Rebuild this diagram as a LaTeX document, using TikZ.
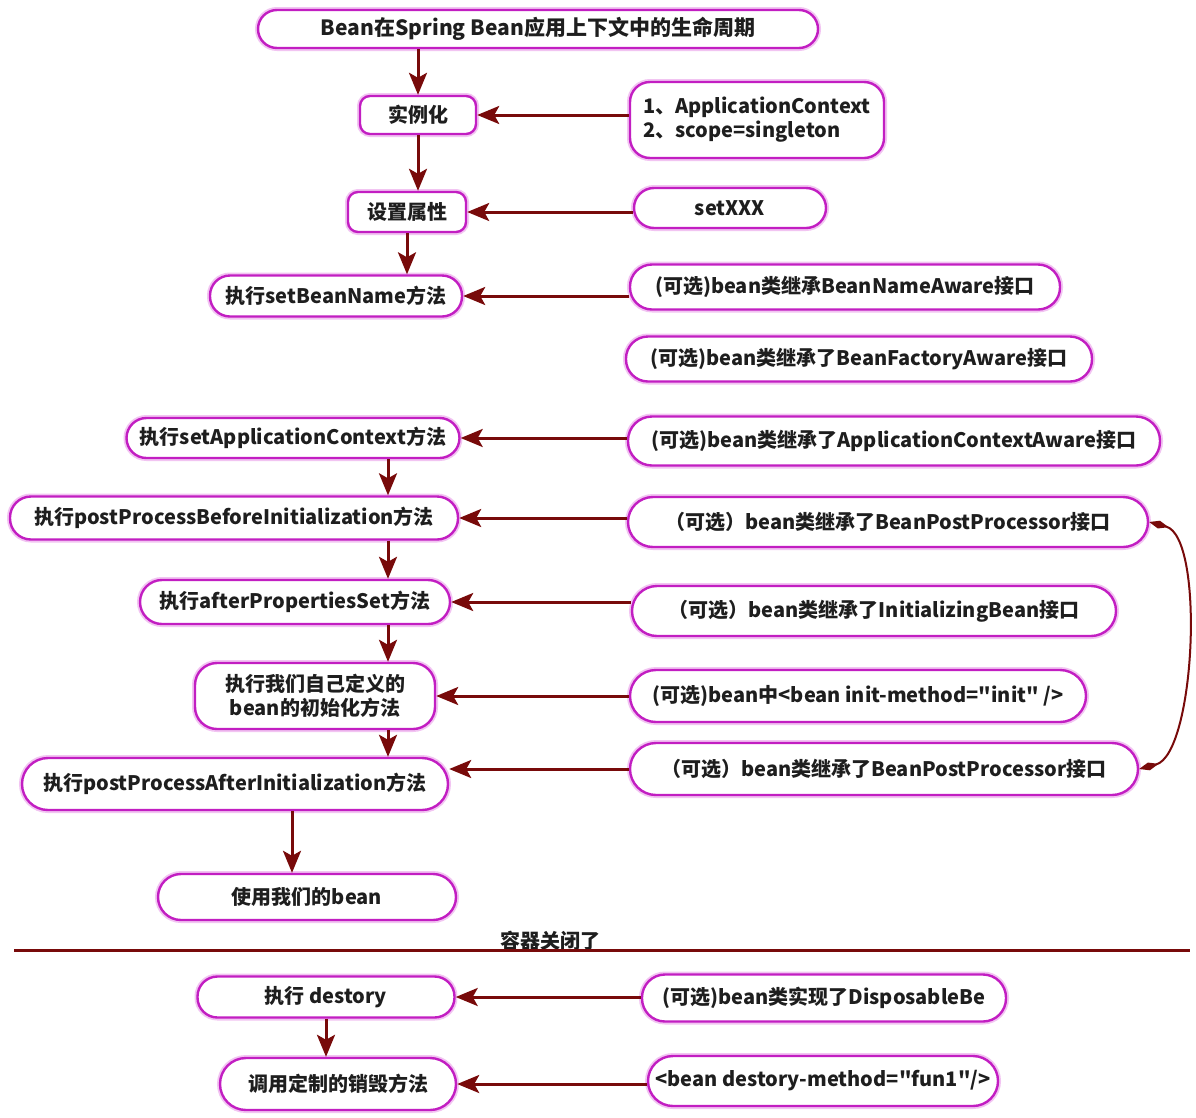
\documentclass[tikz,border=0pt]{standalone}
\usepackage{fontspec}
\setmainfont{Noto Sans CJK SC}[Ligatures=TeXOff]
\usetikzlibrary{arrows.meta}
\definecolor{lifeink}{HTML}{1E1E1E}
\definecolor{lifeedge}{HTML}{C21EC2}
\definecolor{lifeglow}{HTML}{F2C4F2}
\definecolor{lifearrow}{HTML}{780A0A}
\newcommand{\lifefont}{\fontsize{20}{24}\selectfont\bfseries}

\begin{document}
\begin{tikzpicture}[
  x=1pt,
  y=-1pt,
  every node/.style={font=\lifefont, text=lifeink},
  box/.style={draw=lifeedge, line width=2.4pt, fill=white, inner sep=0pt,
              preaction={draw=lifeglow, line width=6pt}},
  flow/.style={lifearrow, line width=3pt,
               -{Stealth[length=22pt, width=18pt, inset=5pt]}},
  link/.style={lifearrow, line width=2pt,
               {Diamond[length=20pt, width=8pt]}-{Diamond[length=20pt, width=8pt]}},
  rule/.style={lifearrow, line width=3pt}
]
  % ---- page, white, same size as the reference -------------------------
  \fill[white] (0,0) rectangle (1196,1117);
  \useasboundingbox (0,0) rectangle (1196,1117);

  % ---- the life cycle, left column -------------------------------------
  \node[box, rounded corners=19pt, minimum width=560, minimum height=38,
        font=\fontsize{21}{25}\selectfont\bfseries]
    (title) at (538,29) {Bean在Spring Bean应用上下文中的生命周期};
  \node[box, rounded corners=10pt, minimum width=116, minimum height=38]
    (inst) at (418,115) {实例化};
  \node[box, rounded corners=10pt, minimum width=118, minimum height=40]
    (prop) at (407,212) {设置属性};
  \node[box, rounded corners=20pt, minimum width=252, minimum height=41]
    (name) at (336,296) {执行setBeanName方法};
  \node[box, rounded corners=20pt, minimum width=333, minimum height=40]
    (ctx) at (293,438) {执行setApplicationContext方法};
  \node[box, rounded corners=21pt, minimum width=448, minimum height=43]
    (before) at (234,518) {执行postProcessBeforeInitialization方法};
  \node[box, rounded corners=22pt, minimum width=310, minimum height=44]
    (afterset) at (295,602) {执行afterPropertiesSet方法};
  \node[box, rounded corners=22pt, minimum width=240, minimum height=66, align=center]
    (own) at (315,696) {执行我们自己定义的\\bean的初始化方法};
  \node[box, rounded corners=26pt, minimum width=426, minimum height=52]
    (after) at (235,784) {执行postProcessAfterInitialization方法};
  \node[box, rounded corners=23pt, minimum width=298, minimum height=46]
    (use) at (307,897) {使用我们的bean};

  % ---- what triggers each step, right column ---------------------------
  \node[box, rounded corners=20pt, minimum width=254, minimum height=76, align=left]
    (cfg) at (757,120) {1、ApplicationContext\\2、scope=singleton};
  \node[box, rounded corners=20pt, minimum width=192, minimum height=40]
    (setx) at (730,208) {setXXX};
  \node[box, rounded corners=22pt, minimum width=430, minimum height=45]
    (nameaw) at (845,287) {(可选)bean类继承BeanNameAware接口};
  \node[box, rounded corners=22pt, minimum width=466, minimum height=45]
    (factaw) at (859,359) {(可选)bean类继承了BeanFactoryAware接口};
  \node[box, rounded corners=24pt, minimum width=532, minimum height=49]
    (ctxaw) at (894,441) {(可选)bean类继承了ApplicationContextAware接口};
  \node[box, rounded corners=25pt, minimum width=520, minimum height=50]
    (bpp) at (888,522) {（可选）bean类继承了BeanPostProcessor接口};
  \node[box, rounded corners=25pt, minimum width=484, minimum height=50]
    (initaw) at (874,611) {（可选）bean类继承了InitializingBean接口};
  \node[box, rounded corners=26pt, minimum width=456, minimum height=52]
    (initm) at (858,696) {(可选)bean中<bean init-method="init" />};
  \node[box, rounded corners=26pt, minimum width=508, minimum height=52]
    (bpp2) at (884,769) {（可选）bean类继承了BeanPostProcessor接口};

  % ---- down the left column --------------------------------------------
  \coordinate (spine) at (388,0);
  \coordinate (tail) at (292,0);
  \draw[flow] (title.south -| inst.north) -- (inst.north);
  \draw[flow] (inst.south) -- (inst.south |- prop.north);
  \draw[flow] (prop.south) -- (prop.south |- name.north);
  \draw[flow] (ctx.south -| spine) -- (before.north -| spine);
  \draw[flow] (before.south -| spine) -- (afterset.north -| spine);
  \draw[flow] (afterset.south -| spine) -- (own.north -| spine);
  \draw[flow] (own.south -| spine) -- (after.north -| spine);
  \draw[flow] (after.south -| tail) -- (use.north -| tail);

  % ---- from right to left ----------------------------------------------
  \draw[flow] (inst.east -| cfg.west) -- (inst.east);
  \draw[flow] (prop.east -| setx.west) -- (prop.east);
  \draw[flow] (name.east -| nameaw.west) -- (name.east);
  \draw[flow] (ctx.east -| ctxaw.west) -- (ctx.east);
  \draw[flow] (before.east -| bpp.west) -- (before.east);
  \draw[flow] (afterset.east -| initaw.west) -- (afterset.east);
  \draw[flow] (own.east -| initm.west) -- (own.east);
  \draw[flow] (bpp2.west) -- (bpp2.west -| after.east);

  % ---- the two BeanPostProcessor boxes are one and the same ------------
  \draw[link] (bpp.east) to[out=-15, in=15, looseness=0.6] (bpp2.east);

  % ---- container closed --------------------------------------------------
  \coordinate (ruleL) at (14,950);
  \coordinate (ruleR) at (1190,950);
  \node[inner sep=0pt] (closed) at (550,941) {容器关闭了};
  \draw[rule] (ruleL) -- (ruleR);

  \node[box, rounded corners=20pt, minimum width=257, minimum height=41]
    (dest) at (326,997) {执行 destory};
  \node[box, rounded corners=26pt, minimum width=236, minimum height=52]
    (custom) at (338,1084) {调用定制的销毁方法};
  \node[box, rounded corners=23pt, minimum width=364, minimum height=47]
    (dispaw) at (824,998) {(可选)bean类实现了DisposableBe};
  \node[box, rounded corners=25pt, minimum width=350, minimum height=50]
    (destm) at (823,1081) {<bean destory-method="fun1"/>};

  \draw[flow] (dest.south) -- (dest.south |- custom.north);
  \draw[flow] (dest.east -| dispaw.west) -- (dest.east);
  \draw[flow] (custom.east -| destm.west) -- (custom.east);

\end{tikzpicture}
\end{document}
